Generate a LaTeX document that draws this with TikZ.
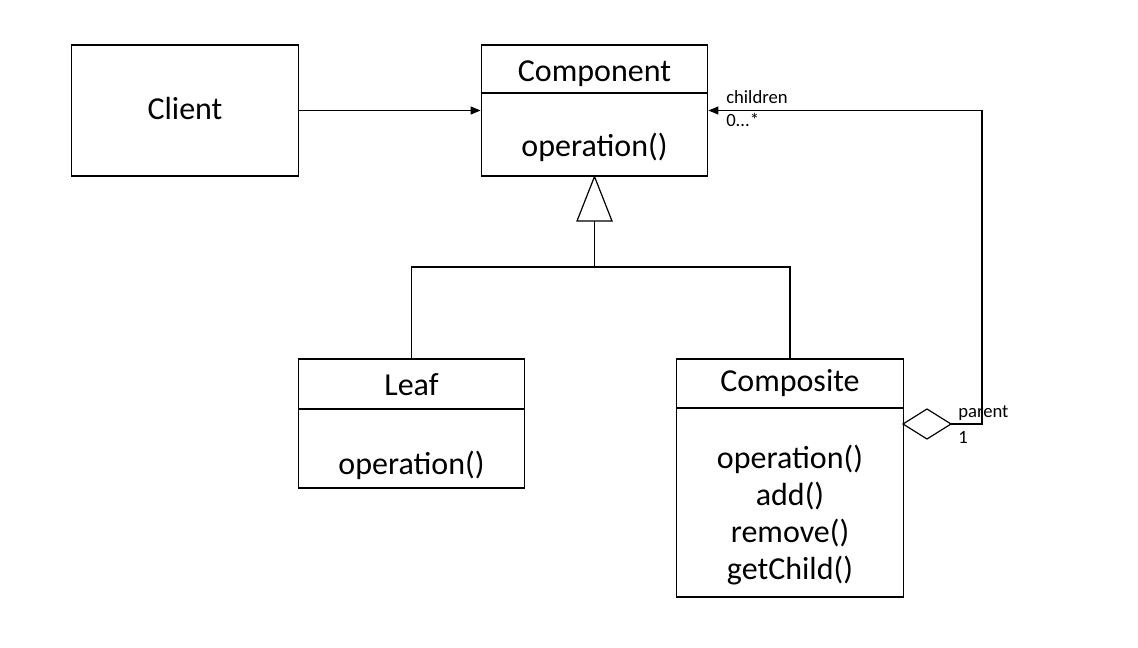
\documentclass[tikz,border=0pt]{standalone}
\usepackage{fontspec}
\setmainfont{Carlito}
\usetikzlibrary{arrows.meta}
\tikzset{
  cls/.style={draw, line width=0.9pt, inner sep=0pt, minimum width=170pt},
  big/.style={font=\fontsize{24pt}{28pt}\selectfont, inner sep=0pt, anchor=base},
  small/.style={font=\fontsize{14pt}{16pt}\selectfont, inner sep=0pt, anchor=base west},
  conn/.style={line width=0.9pt},
  arr/.style={conn, -{Triangle[length=7.5pt,width=6pt]}},
}
\begin{document}
\begin{tikzpicture}[x=0.75pt,y=-0.75pt]
\useasboundingbox (0,0) rectangle (1138,648);
% boxes
\node[cls, minimum height=98.25pt] (client) at (185,110.5) {};
\node[cls, minimum height=98.25pt] (comp) at (594.5,110.5) {};
\node[cls, minimum height=96.75pt] (leaf) at (411.5,423.5) {};
\node[cls, minimum height=178.5pt] (compo) at (790,478) {};
% dividers
\coordinate (compL) at (481,93); \coordinate (compR) at (708,93);
\coordinate (leafL) at (298,409); \coordinate (leafR) at (525,409);
\coordinate (compoL) at (677,408); \coordinate (compoR) at (903,408);
\draw[conn] (compL) -- (compR);
\draw[conn] (leafL) -- (leafR);
\draw[conn] (compoL) -- (compoR);
% texts
\node[big] (clientT) at (185,120) {Client};
\node[big] (compT) at (594.5,82) {Component};
\node[big] (compOp) at (594.5,157) {operation()};
\node[big] (leafT) at (411.5,395) {Leaf};
\node[big] (leafOp) at (411.5,474) {operation()};
\node[big] (compoT) at (790,392) {Composite};
\node[big] (compoOp) at (790,468) {operation()};
\node[big] (compoAdd) at (790,505) {add()};
\node[big] (compoRem) at (790,542) {remove()};
\node[big] (compoGet) at (790,579) {getChild()};
% client -> component
\draw[arr] (client.east) -- (comp.west);
% generalization
\coordinate (gen) at (594.5,221);
\coordinate (junc) at (594.5,267);
\draw[conn, fill=white, line join=miter] (comp.south) -- (577,221) -- (612,221) -- cycle;
\draw[conn] (gen) -- (junc);
\draw[conn] (leaf.north) |- (junc) -| (compo.north);
% aggregation
\coordinate (diaL) at (903,424);
\coordinate (diaR) at (951,424);
\coordinate (corner) at (982,424);
\draw[conn, fill=white] (diaL) -- (927,409) -- (diaR) -- (927,439) -- cycle;
\draw[arr] (diaR) -- (corner) |- (comp.east);
% labels
\node[small] (children) at (726,104) {children};
\node[small] (mult0) at (726,127) {0...*};
\node[small] (parent) at (958,417) {parent};
\node[small] (mult1) at (958,443) {1};
\end{tikzpicture}
\end{document}
